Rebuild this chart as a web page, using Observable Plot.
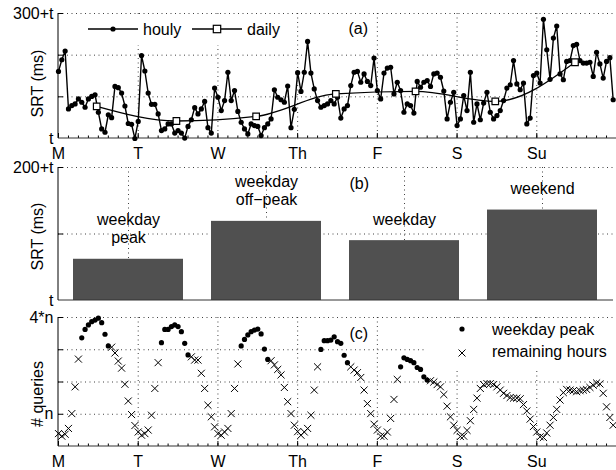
<!DOCTYPE html>
<html><head><meta charset="utf-8">
<script src="https://cdn.jsdelivr.net/npm/d3@7"></script>
<script src="https://cdn.jsdelivr.net/npm/@observablehq/plot@0.6"></script>
<style>
body{margin:0;background:#fff;}
#chart{position:relative;width:616px;height:470px;font-family:"Liberation Sans",Arial,sans-serif;font-size:16px;overflow:hidden;}
#chart svg{display:block;}
.leg{position:absolute;background:#fff;}
.lt{position:absolute;font-size:16px;line-height:16px;color:#000;white-space:nowrap;}
</style></head><body><div id="chart"></div>
<script>
// ---------- data ----------
const dayLabels = ["M","T","W","Th","F","S","Su"];
const srtHourly = [
161,189,210,71,79,83,95,87,75,95,101,105,63,23,15,57,50,125,122,109,78,36,34,0,
41,199,162,109,82,82,59,19,23,35,35,13,19,13,1,29,45,74,59,71,89,26,13,121,
99,67,91,159,91,115,65,39,23,11,35,31,29,7,26,35,47,117,99,93,87,126,26,70,
158,113,159,233,157,119,91,75,79,83,91,83,99,49,71,79,127,159,161,135,155,137,127,193,
115,95,157,169,171,107,135,115,63,83,79,61,137,123,135,139,125,155,157,147,114,47,87,111,
31,47,103,67,159,39,83,45,85,111,63,47,55,67,91,121,129,187,131,117,133,35,49,151,
157,133,286,213,142,241,270,155,141,185,187,223,226,187,181,181,183,149,207,179,145,185,194,93];
const srtDaily = [77,42,53,107,113,89,183];
const barCategories = ["weekday peak","weekday off-peak","weekday","weekend"];
const barLabels = ["weekday\npeak","weekday\noff\u2212peak","weekday","weekend"];
const barValues = [62,119,90,136];
const queries = [
0.40,0.32,0.38,0.56,1.02,1.85,2.71,3.37,3.63,3.77,3.87,3.92,3.98,3.84,3.48,3.12,3.08,2.90,2.65,2.43,1.93,1.41,0.99,0.65,
0.45,0.35,0.40,0.51,0.97,1.80,2.60,3.22,3.63,3.63,3.72,3.77,3.72,3.56,3.20,2.84,2.78,2.68,2.68,2.27,1.80,1.28,0.92,0.61,
0.40,0.35,0.45,0.56,1.02,1.80,2.56,3.12,3.32,3.46,3.56,3.61,3.64,3.49,3.02,2.70,2.66,2.53,2.39,2.22,1.83,1.39,1.02,0.66,
0.46,0.35,0.45,0.56,0.97,1.75,2.47,3.01,3.28,3.28,3.30,3.40,3.25,3.20,2.83,2.60,2.47,2.37,2.29,2.14,1.75,1.33,1.02,0.69,
0.51,0.32,0.32,0.45,0.87,1.46,2.08,2.47,2.75,2.70,2.66,2.60,2.45,2.39,2.16,2.06,2.04,2.00,1.92,1.85,1.61,1.25,0.92,0.66,
0.50,0.31,0.32,0.50,0.80,1.15,1.50,1.80,1.92,1.95,1.95,1.92,1.85,1.75,1.65,1.58,1.52,1.50,1.50,1.48,1.30,1.10,0.85,0.62,
0.45,0.30,0.28,0.42,0.66,0.90,1.15,1.44,1.67,1.77,1.75,1.73,1.70,1.73,1.75,1.77,1.83,1.90,1.97,1.94,1.65,1.23,0.90,0.66];

// ---------- derived tables ----------
const hourly = srtHourly.map((v, h) => ({h, v}));
const daily = srtDaily.map((v, d) => ({h: d * 24 + 11.5, v}));
const bars = barCategories.map((c, i) => ({c, v: barValues[i], label: barLabels[i]}));
const q = queries.map((v, h) => ({h, v, peak: Math.floor(h / 24) < 5 && (h % 24) >= 7 && (h % 24) <= 15}));
const dayTicks = dayLabels.map((d, i) => i * 24);
const minorTicks = d3.range(0, 168, 3);

const W = 616, ML = 58;
const grid = {stroke: "#000", strokeOpacity: 0.75, strokeDasharray: "1,3.5", strokeWidth: 1};
const baseStyle = {fontFamily: "Liberation Sans, Arial, sans-serif", fontSize: "16px", background: "transparent", overflow: "visible", color: "#000"};

function leftLine(index, scales, values, dims) {
  const l = document.createElementNS("http://www.w3.org/2000/svg", "line");
  l.setAttribute("x1", dims.marginLeft); l.setAttribute("x2", dims.marginLeft);
  l.setAttribute("y1", dims.marginTop); l.setAttribute("y2", dims.height - dims.marginBottom);
  l.setAttribute("stroke", "#000");
  return l;
}
function bottomLine(index, scales, values, dims) {
  const l = document.createElementNS("http://www.w3.org/2000/svg", "line");
  l.setAttribute("x1", dims.marginLeft); l.setAttribute("x2", dims.width - dims.marginRight);
  l.setAttribute("y1", dims.height - dims.marginBottom); l.setAttribute("y2", dims.height - dims.marginBottom);
  l.setAttribute("stroke", "#333");
  return l;
}
const yTitle = (txt, dy) => Plot.text([txt], {frameAnchor: "left", textAnchor: "middle", lineAnchor: "middle", rotate: -90, dx: -21, dy, fontSize: 16});

// ---------- panel (a) ----------
const pa = Plot.plot({
  width: W, height: 158, marginLeft: ML, marginRight: 0, marginTop: 13, marginBottom: 20,
  style: baseStyle,
  x: {domain: [0, 168]},
  y: {domain: [0, 300]},
  marks: [
    Plot.gridX(dayTicks.slice(1), grid),
    Plot.gridY([100, 200, 300], grid),
    Plot.ruleY([100, 200, 300], {insetRight: 553, stroke: "#000"}),
    Plot.ruleX(dayTicks, {insetTop: 120, stroke: "#000"}),
    Plot.ruleX(minorTicks, {insetTop: 122.5, stroke: "#000"}),
    leftLine, bottomLine,
    Plot.line(hourly, {x: "h", y: "v", stroke: "#000", strokeWidth: 1.4}),
    Plot.dot(hourly, {x: "h", y: "v", r: 2.6, fill: "#000"}),
    Plot.line(daily, {x: "h", y: "v", curve: "monotone-x", stroke: "#000", strokeWidth: 1.3}),
    Plot.dot(daily, {x: "h", y: "v", symbol: "square", r: 3.7, fill: "#fff", stroke: "#000", strokeWidth: 1.2}),
    Plot.text(["(a)"], {frameAnchor: "top-left", dx: 290, dy: 9, textAnchor: "start", fontSize: 16}),
    yTitle("SRT (ms)", 7.5),
    Plot.axisX({ticks: dayTicks, tickFormat: d => dayLabels[d / 24], tickSize: 0, tickPadding: 9, label: null}),
    Plot.axisY({ticks: [0, 300], tickFormat: d => d ? "300+t" : "t", tickSize: 0, tickPadding: 5, label: null})
  ]
});

// ---------- panel (b) ----------
const pb = Plot.plot({
  width: W, height: 150, marginLeft: ML, marginRight: 3, marginTop: 9, marginBottom: 8,
  style: baseStyle,
  x: {domain: barCategories, paddingInner: 0.2, paddingOuter: 0.1, axis: null},
  y: {domain: [0, 200]},
  marks: [
    Plot.gridX(barCategories, grid),
    Plot.gridY([100, 200], grid),
    Plot.ruleY([100, 200], {insetRight: 550, stroke: "#000"}),
    Plot.barY(bars, {x: "c", y: "v", fill: "#505050"}),
    bottomLine, leftLine,
    Plot.text(bars, {x: "c", y: "v", text: "label", lineAnchor: "bottom", dy: -16, fontSize: 16, lineHeight: 1.15}),
    Plot.text(["(b)"], {frameAnchor: "top-left", dx: 291, dy: 10, textAnchor: "start", fontSize: 16}),
    yTitle("SRT (ms)", 2.5),
    Plot.axisY({ticks: [0, 200], tickFormat: d => d ? "200+t" : "t", tickSize: 0, tickPadding: 5, label: null})
  ]
});

// ---------- panel (c) ----------
const pc = Plot.plot({
  width: W, height: 162, marginLeft: ML, marginRight: 0, marginTop: 9, marginBottom: 24,
  style: baseStyle,
  x: {domain: [0, 168]},
  y: {domain: [0, 4]},
  marks: [
    Plot.gridX(dayTicks.slice(1), grid),
    Plot.gridY([1, 2, 3, 4], grid),
    Plot.ruleY([1, 2, 3, 4], {insetRight: 553, stroke: "#000"}),
    Plot.ruleX(dayTicks, {insetTop: 124, stroke: "#000"}),
    Plot.ruleX(minorTicks, {insetTop: 126.5, stroke: "#000"}),
    leftLine, bottomLine,
    Plot.dot(q.filter(d => !d.peak), {x: "h", y: "v", symbol: "times", r: 3.3, stroke: "#000", strokeWidth: 1}),
    Plot.dot(q.filter(d => d.peak), {x: "h", y: "v", r: 2.6, fill: "#000"}),
    Plot.text(["(c)"], {frameAnchor: "top-left", dx: 291, dy: 10, textAnchor: "start", fontSize: 16}),
    yTitle("# queries", 12),
    Plot.axisX({ticks: dayTicks, tickFormat: d => dayLabels[d / 24], tickSize: 0, tickPadding: 9, label: null}),
    Plot.axisY({ticks: [1, 4], tickFormat: d => d === 4 ? "4*n" : "n", tickSize: 0, tickPadding: 5, label: null})
  ]
});

const chart = document.getElementById("chart");
chart.append(pa, pb, pc);

// ---------- legends (overlays) ----------
function box(l, t, w, h) { const b = document.createElement("div"); b.className = "leg"; Object.assign(b.style, {left: l + "px", top: t + "px", width: w + "px", height: h + "px"}); chart.appendChild(b); return b; }
function label(txt, l, cy) { const s = document.createElement("div"); s.className = "lt"; s.textContent = txt; Object.assign(s.style, {left: l + "px", top: (cy - 8) + "px"}); chart.appendChild(s); }
function svgIcon(l, t, w, h, inner) { const s = document.createElementNS("http://www.w3.org/2000/svg", "svg"); s.setAttribute("width", w); s.setAttribute("height", h); s.style.position = "absolute"; s.style.left = l + "px"; s.style.top = t + "px"; s.innerHTML = inner; chart.appendChild(s); }

box(80, 15, 210, 30);
svgIcon(86, 21, 54, 16, '<line x1="2" y1="8" x2="52" y2="8" stroke="#000" stroke-width="1.3"/><circle cx="27" cy="8" r="2.6" fill="#000"/>');
label("houly", 143, 30);
svgIcon(190, 21, 54, 16, '<line x1="2" y1="8" x2="52" y2="8" stroke="#000" stroke-width="1.3"/><rect x="23.3" y="4.3" width="7.4" height="7.4" fill="#fff" stroke="#000" stroke-width="1.2"/>');
label("daily", 247, 30);

box(425, 319, 191, 50);
svgIcon(454, 321, 16, 16, '<circle cx="8" cy="8" r="2.6" fill="#000"/>');
label("weekday peak", 492, 330);
svgIcon(454, 345, 16, 16, '<path d="M4.5,4.5L11.5,11.5M11.5,4.5L4.5,11.5" stroke="#000" stroke-width="1"/>');
label("remaining hours", 492, 352);
</script></body></html>
